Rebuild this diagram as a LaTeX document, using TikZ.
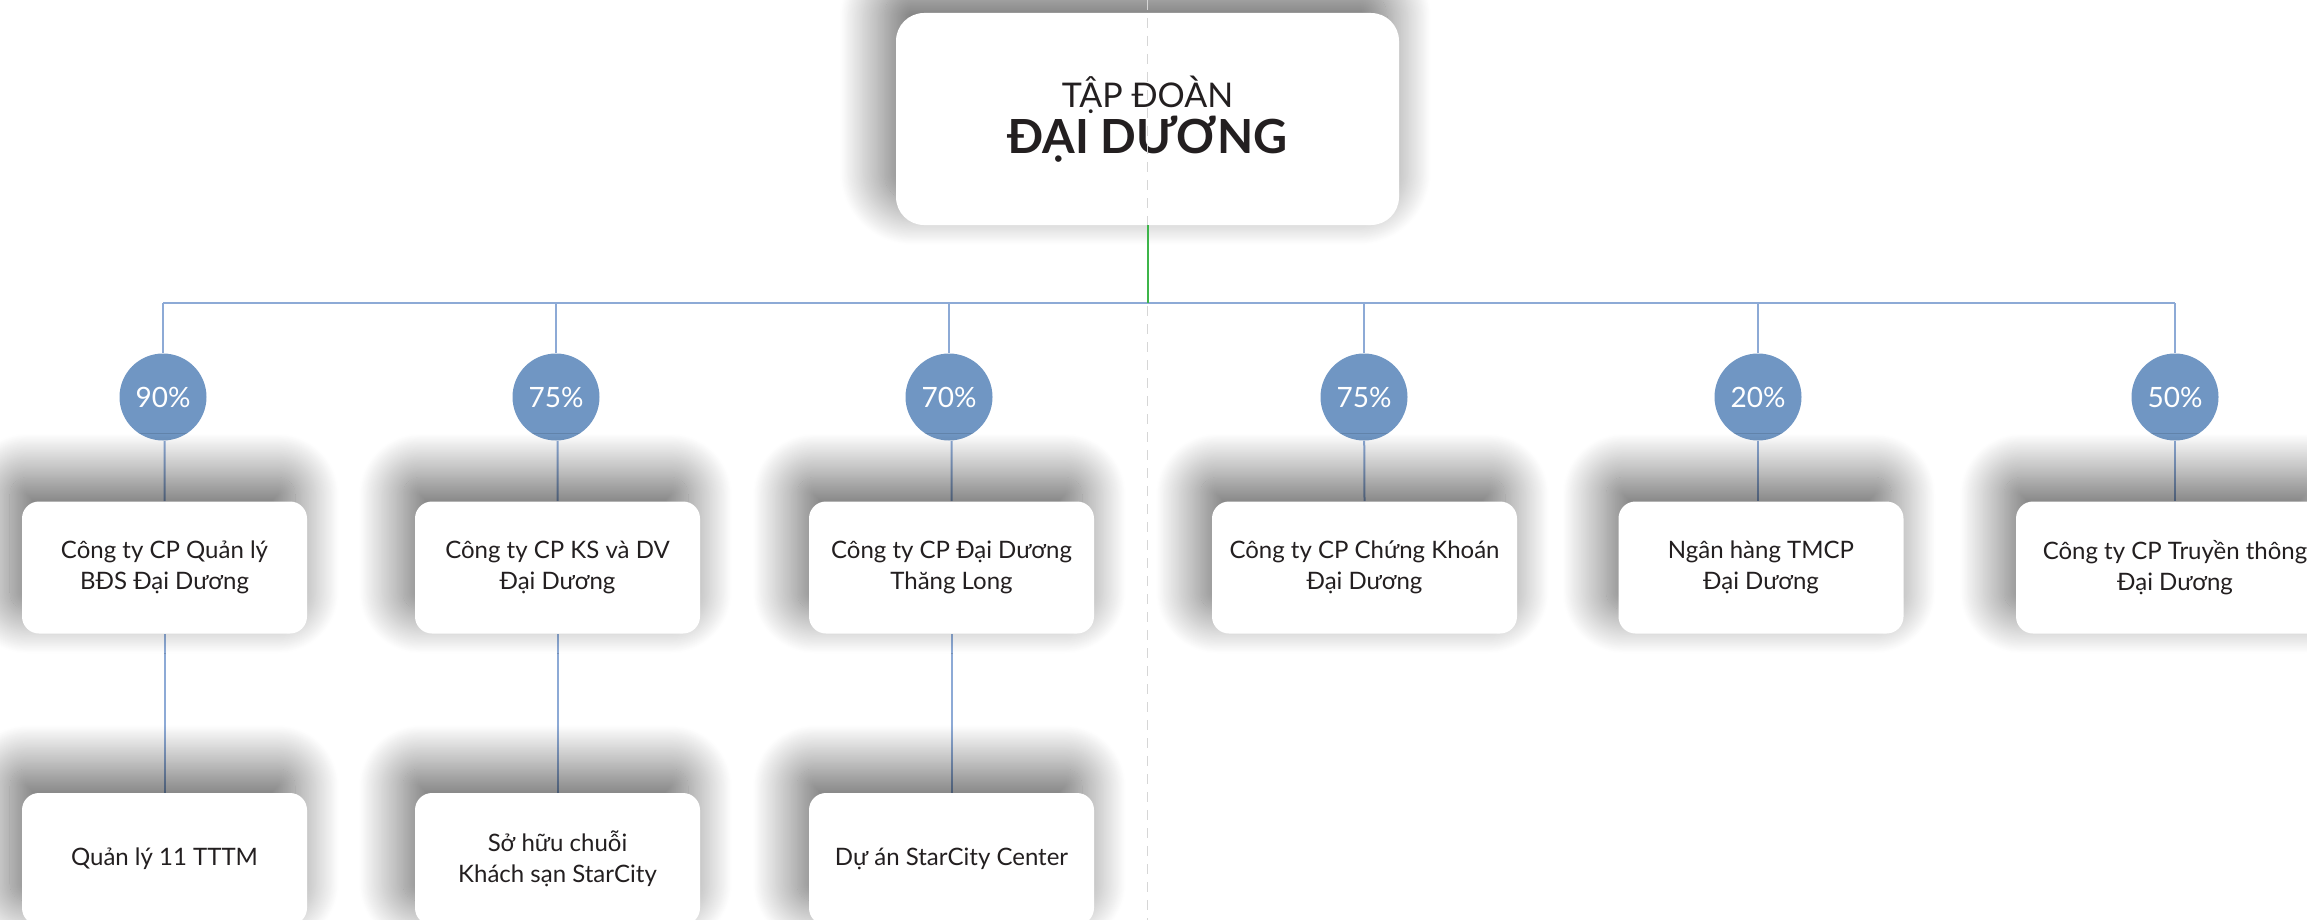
\documentclass[tikz,border=0pt]{standalone}
\usepackage{fontspec}
\setmainfont{Lato}
\usetikzlibrary{shadows.blur}
\usetikzlibrary{backgrounds}

\definecolor{pctblue}{HTML}{7096C3}
\definecolor{lineblue}{HTML}{8DAAD6}
\definecolor{linegreen}{HTML}{3DB54A}
\definecolor{txtgray}{HTML}{231F20}
\definecolor{guidegray}{HTML}{D6D6D6}

\tikzset{
  softshadow/.style={blur shadow={shadow xshift=-6pt, shadow yshift=12pt, shadow blur radius=22pt, shadow blur steps=50, shadow opacity=60}},
  company/.style={fill=white, rounded corners=8.5pt, minimum width=142.5pt, minimum height=66pt,
    align=center, text=txtgray, font=\fontsize{12}{15.8}\selectfont, softshadow},
  groupbox/.style={company, rounded corners=14pt, minimum width=251.5pt, minimum height=106pt},
  pct/.style={circle, fill=pctblue, minimum size=43.5pt, inner sep=0pt, text=white, font=\fontsize{14}{14}\selectfont},
  link/.style={draw=lineblue, line width=1pt},
  guide/.style={draw=guidegray, line width=0.8pt, dash pattern=on 5pt off 4pt}
}

\begin{document}
\begin{tikzpicture}[x=0.5pt,y=0.5pt,yscale=-1]
\useasboundingbox (0,0) rectangle (2307,920);

% Top node
\node[groupbox] (group) at (1147.5,119) {\fontsize{17}{26}\selectfont TẬP ĐOÀN\\\fontsize{23.5}{26}\selectfont\bfseries ĐẠI DƯƠNG};

% Percentages
\node[pct] (p1) at (163,397) {90\%};
\node[pct] (p2) at (556,397) {75\%};
\node[pct] (p3) at (949,397) {70\%};
\node[pct] (p4) at (1364,397) {75\%};
\node[pct] (p5) at (1758,397) {20\%};
\node[pct] (p6) at (2175,397) {50\%};

% Companies
\node[company] (c1) at (164.5,567.5) {Công ty CP Quản lý\\BĐS Đại Dương};
\node[company] (c2) at (557.5,567.5) {Công ty CP KS và DV\\Đại Dương};
\node[company] (c3) at (951.5,567.5) {Công ty CP Đại Dương\\Thăng Long};
\node[company, minimum width=152.5pt] (c4) at (1364.5,567.5) {Công ty CP Chứng Khoán\\Đại Dương};
\node[company] (c5) at (1761,567.5) {Ngân hàng TMCP\\Đại Dương};
\node[company, minimum width=159pt] (c6) at (2175,567.5) {Công ty CP Truyền thông\\Đại Dương};

% Second level
\node[company] (s1) at (164.5,859) {Quản lý 11 TTTM};
\node[company] (s2) at (557.5,859) {Sở hữu chuỗi\\Khách sạn StarCity};
\node[company] (s3) at (951.5,859) {Dự án StarCity Center};

%Straight Lines
\coordinate (bar) at (1147.5,303);
\begin{scope}[on background layer]
\draw[link] (p1 |- bar) -- (p6 |- bar);
\draw[link] (p1 |- bar) -- (p1);
\draw[link] (p2 |- bar) -- (p2);
\draw[link] (p3 |- bar) -- (p3);
\draw[link] (p4 |- bar) -- (p4);
\draw[link] (p5 |- bar) -- (p5);
\draw[link] (p6 |- bar) -- (p6);
\draw[link] (p1) -- (c1 |- p1.south) -- (c1.north);
\draw[link] (p2) -- (c2 |- p2.south) -- (c2.north);
\draw[link] (p3) -- (c3 |- p3.south) -- (c3.north);
\draw[link] (p4) -- (c4.north);
\draw[link] (p5) -- (p5 |- c5.north);
\draw[link] (p6) -- (c6.north);
\draw[link] (c1) -- (s1);
\draw[link] (c2) -- (s2);
\draw[link] (c3) -- (s3);
\end{scope}

% Guide
\coordinate (gtop) at (1147.5,0);
\coordinate (gbot) at (1147.5,920);
\draw[guide] (gtop) -- (gbot);
\draw[draw=linegreen, line width=1pt] (group) -- (bar);

\end{tikzpicture}
\end{document}
